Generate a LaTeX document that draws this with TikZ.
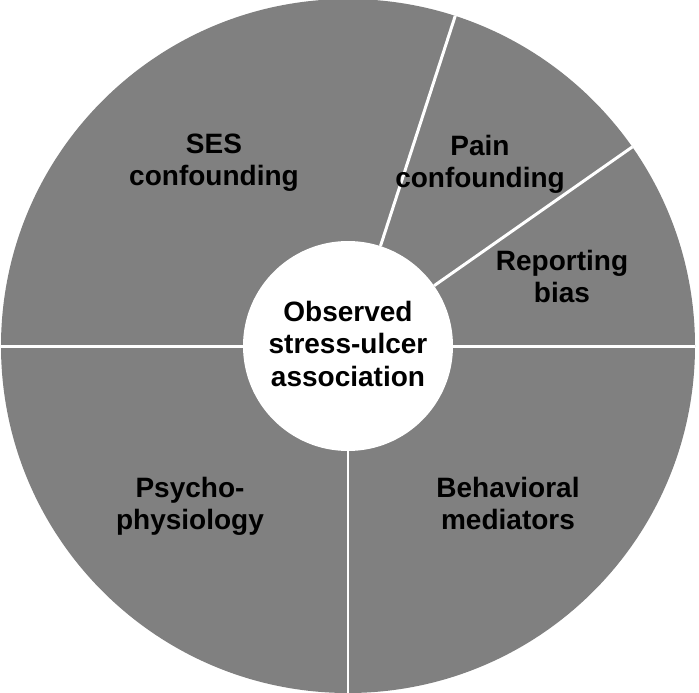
\documentclass[tikz,border=0pt]{standalone}
\usepackage{fontspec}
\setmainfont{Liberation Sans}
\definecolor{sectorgray}{RGB}{128,128,128}
\newcommand\topS{\rule{0pt}{21pt}}
\newcommand\botS{\rule[-6pt]{0pt}{6pt}}
\tikzset{
  lbl/.style={align=center, inner sep=0pt, text=black,
    font=\bfseries\fontsize{28}{32.5}\selectfont},
  divider/.style={draw=white, line width=3pt},
}
\begin{document}
\begin{tikzpicture}[x=1pt,y=-1pt]
  \useasboundingbox (0,0) rectangle (699,693);
  \fill[white] (0,0) rectangle (699,693);
  \coordinate (c) at (348,346);
  \node[circle, fill=sectorgray, minimum size=694pt, inner sep=0pt] (disk) at (c) {};
  \node[circle, fill=white, minimum size=210pt, inner sep=0pt, lbl] (obs) at (c)
    {\topS Observed\\stress-ulcer\\association\botS};
  \draw[divider] (obs.180) -- (disk.180);
  \draw[divider] (obs.0) -- (disk.0);
  \draw[divider, line width=2pt] (obs.270) -- (disk.270);
  \draw[divider] (obs.72) -- (disk.72);
  \draw[divider] (obs.35.5) -- (disk.35.5);
  \node[lbl] (ses) at (214,162) {\topS SES\\confounding\botS};
  \node[lbl] (pain) at (480,164) {\topS Pain\\confounding\botS};
  \node[lbl] (rep) at (562,279) {\topS Reporting\\bias\botS};
  \node[lbl] (psy) at (190,506) {\topS Psycho-\\physiology\botS};
  \node[lbl] (beh) at (508,506) {\topS Behavioral\\mediators\botS};
\end{tikzpicture}
\end{document}
